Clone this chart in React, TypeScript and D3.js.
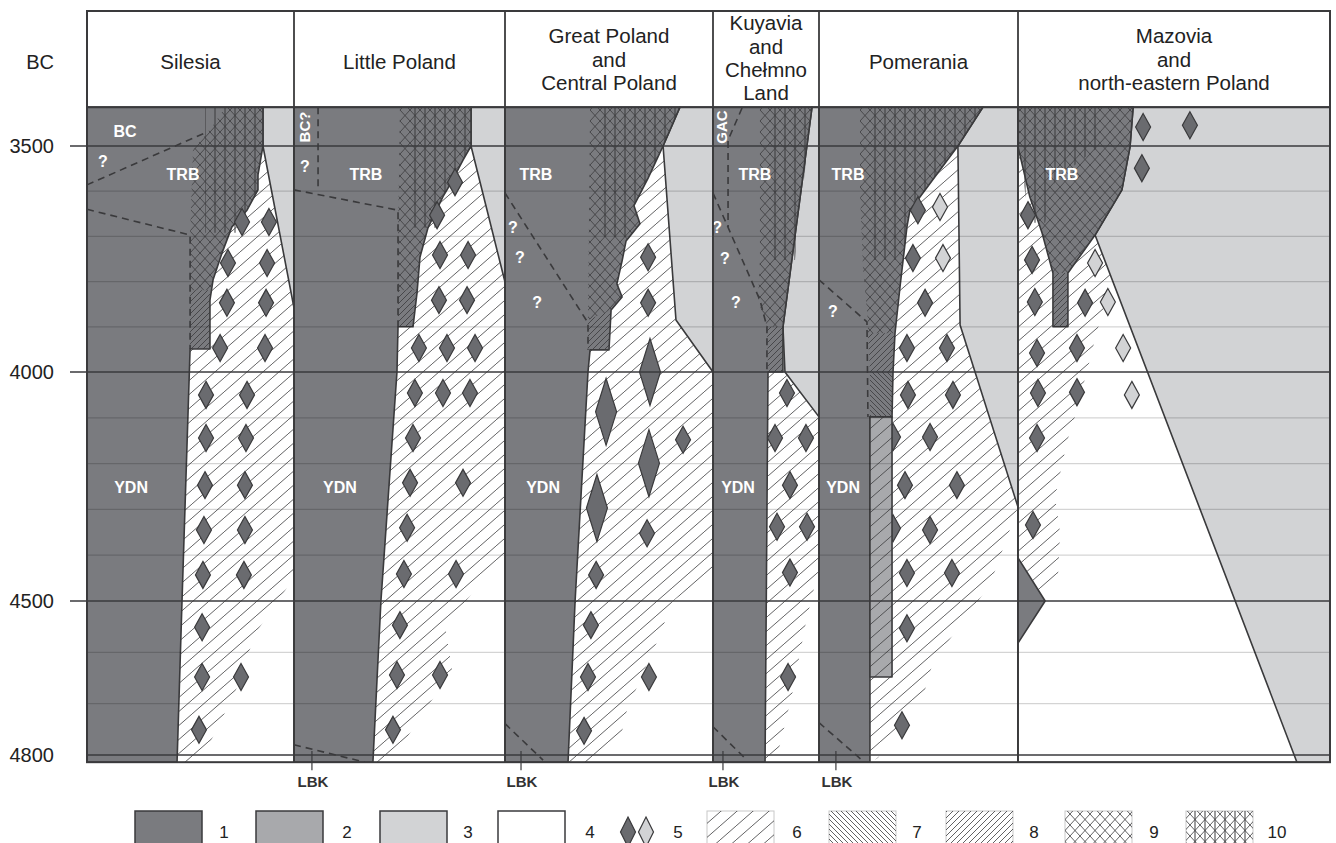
import React from 'react';
import * as d3 from 'd3';

type Pt = [number, number]; // [column units (0..6), year BC]

// ---- data ----
const REGIONS: string[][] = [
  ['Silesia'],
  ['Little Poland'],
  ['Great Poland', 'and', 'Central Poland'],
  ['Kuyavia', 'and', 'Chełmno', 'Land'],
  ['Pomerania'],
  ['Mazovia', 'and', 'north-eastern Poland'],
];

const TICK_YEARS = [3500, 4000, 4500, 4800];
const TICK_LABELS = ['3500', '4000', '4500', '4800'];
const GRID_YEARS = [3600, 3700, 3800, 3900, 4100, 4200, 4300, 4400, 4600, 4700];
const YEAR_TOP = 3414;
const YEAR_BOTTOM = 4814;

// 1 - dark grey
const DARK_AREAS: Pt[][] = [
  [[0, 3414], [0.85, 3414], [0.85, 3500], [0.826, 3564], [0.826, 3597], [0.773, 3642], [0.7, 3679], [0.652, 3737], [0.609, 3796], [0.594, 3841], [0.594, 3949], [0.498, 3949], [0.459, 4500], [0.435, 4814], [0, 4814]],
  [[1, 3414], [1.839, 3414], [1.839, 3500], [1.801, 3531], [1.739, 3586], [1.706, 3612], [1.635, 3681], [1.597, 3746], [1.583, 3825], [1.564, 3900], [1.493, 3900], [1.488, 4000], [1.412, 4500], [1.374, 4814], [1, 4814]],
  [[2, 3414], [2.841, 3414], [2.76, 3500], [2.688, 3571], [2.62, 3632], [2.649, 3672], [2.582, 3710], [2.563, 3754], [2.538, 3805], [2.563, 3834], [2.51, 3863], [2.5, 3951], [2.409, 3951], [2.399, 4000], [2.337, 4500], [2.303, 4814], [2, 4814]],
  [[3, 3414], [3.934, 3414], [3.66, 3900], [3.66, 4000], [3.519, 4000], [3.491, 4814], [3, 4814]],
  [[4, 3414], [4.824, 3414], [4.698, 3500], [4.608, 3553], [4.497, 3619], [4.457, 3642], [4.442, 3679], [4.407, 3812], [4.382, 3914], [4.372, 4000], [4.367, 4098], [4.256, 4098], [4.256, 4814], [4, 4814]],
  [[5, 3414], [5.369, 3414], [5.359, 3502], [5.333, 3597], [5.247, 3697], [5.16, 3781], [5.16, 3900], [5.112, 3900], [5.112, 3781], [5.077, 3692], [5.038, 3613], [5, 3502]],
  [[5, 4406], [5.087, 4500], [5, 4582]],
];

// 2 - medium grey
const MEDIUM_AREAS: Pt[][] = [
  [[4.256, 4098], [4.367, 4098], [4.367, 4648], [4.256, 4648]],
];

// 3 - light grey
const LIGHT_AREAS: Pt[][] = [
  [[5, 3414], [6, 3414], [6, 4814], [5, 4814]],
  [[0.85, 3414], [1, 3414], [1, 3858], [0.85, 3500]],
  [[1.839, 3414], [2, 3414], [2, 3801], [1.839, 3500]],
  [[2.841, 3414], [3, 3414], [3, 4000], [2.822, 3885], [2.76, 3500]],
  [[3.934, 3414], [4, 3414], [4, 4098], [3.679, 4000], [3.66, 3900]],
  [[4.824, 3414], [5, 3414], [5, 4295], [4.709, 3896], [4.698, 3500]],
];

// 4 - white
const WHITE_AREAS: Pt[][] = [
  [[5, 3414], [5.369, 3414], [5.359, 3502], [5.333, 3597], [5.247, 3697], [5.894, 4814], [5, 4814]],
];

// 6 - sparse hatching
const HATCH6_AREAS: Pt[][] = [
  [[0.85, 3500], [1, 3858], [1, 4449], [0.816, 4562], [0.768, 4615], [0.72, 4673], [0.585, 4784], [0.522, 4814], [0.4, 4814], [0.4, 3500]],
  [[1.839, 3500], [2, 3801], [2, 4400], [1.716, 4547], [1.749, 4634], [1.512, 4780], [1.431, 4814], [1.3, 4814], [1.3, 3500]],
  [[2.76, 3500], [2.822, 3885], [3, 4000], [3, 4432], [2.803, 4502], [2.745, 4566], [2.587, 4712], [2.553, 4771], [2.457, 4814], [2.25, 4814], [2.25, 3500]],
  [[3.519, 4000], [3.679, 4000], [4, 4098], [4, 4429], [3.887, 4531], [3.745, 4683], [3.604, 4804], [3.557, 4814], [3.45, 4814], [3.45, 4000]],
  [[4.698, 3500], [4.709, 3896], [5, 4295], [4.859, 4465], [4.573, 4619], [4.533, 4673], [4.296, 4806], [4.256, 4814], [4.2, 4814], [4.2, 3500]],
  [[5, 3502], [5.038, 3613], [5.077, 3692], [5.112, 3781], [5.112, 3900], [5.16, 3900], [5.16, 3781], [5.247, 3697], [5.301, 3796], [5.263, 3885], [5.189, 4083], [5.157, 4153], [5.119, 4273], [5.135, 4351], [5.128, 4450], [5.071, 4500], [5, 4406]],
];

// 7 - dense backslash
const HATCH7_AREAS: Pt[][] = [
  [[4.256, 4000], [4.372, 4000], [4.367, 4098], [4.256, 4098]],
];

// 8 - dense slash
const HATCH8_AREAS: Pt[][] = [
  [[0.498, 3819], [0.594, 3819], [0.594, 3949], [0.498, 3949]],
  [[1.493, 3819], [1.583, 3819], [1.564, 3900], [1.493, 3900]],
  [[2.399, 3885], [2.51, 3863], [2.5, 3951], [2.399, 3951]],
  [[3.509, 3900], [3.66, 3900], [3.66, 4000], [3.519, 4000]],
  [[4.246, 3914], [4.382, 3914], [4.372, 4000], [4.256, 4000]],
  [[5.112, 3781], [5.16, 3781], [5.16, 3900], [5.112, 3900]],
];

// 9 - cross hatching
const CROSS9_AREAS: Pt[][] = [
  [[0.667, 3414], [0.85, 3414], [0.85, 3500], [0.826, 3564], [0.826, 3597], [0.773, 3642], [0.7, 3679], [0.652, 3737], [0.609, 3796], [0.594, 3819], [0.498, 3819], [0.498, 3697], [0.512, 3509], [0.609, 3454]],
  [[1.502, 3414], [1.839, 3414], [1.839, 3500], [1.801, 3531], [1.739, 3586], [1.706, 3612], [1.635, 3681], [1.597, 3746], [1.583, 3819], [1.493, 3819], [1.493, 3700]],
  [[2.409, 3414], [2.841, 3414], [2.76, 3500], [2.688, 3571], [2.62, 3632], [2.649, 3672], [2.582, 3710], [2.563, 3754], [2.538, 3805], [2.563, 3834], [2.51, 3863], [2.399, 3885]],
  [[3.443, 3414], [3.934, 3414], [3.66, 3900], [3.509, 3900], [3.425, 3841], [3.443, 3750]],
  [[4.206, 3414], [4.824, 3414], [4.698, 3500], [4.608, 3553], [4.497, 3619], [4.457, 3642], [4.442, 3679], [4.407, 3812], [4.382, 3914], [4.246, 3914], [4.246, 3890], [4.221, 3770], [4.206, 3600]],
  [[5, 3414], [5.369, 3414], [5.359, 3502], [5.333, 3597], [5.247, 3697], [5.16, 3781], [5.112, 3781], [5.077, 3692], [5.038, 3613], [5, 3502]],
];

// 10 - cross hatching with vertical lines (vertical part)
const VERT10_AREAS: Pt[][] = [
  [[0.57, 3414], [0.85, 3414], [0.85, 3500], [0.826, 3564], [0.826, 3597], [0.773, 3642], [0.739, 3692], [0.57, 3692]],
  [[1.55, 3414], [1.839, 3414], [1.839, 3500], [1.801, 3531], [1.739, 3586], [1.706, 3612], [1.68, 3681], [1.55, 3681]],
  [[2.457, 3414], [2.841, 3414], [2.76, 3500], [2.688, 3571], [2.62, 3632], [2.6, 3700], [2.457, 3700]],
  [[3.519, 3414], [3.934, 3414], [3.774, 3752], [3.519, 3752]],
  [[4.246, 3414], [4.824, 3414], [4.698, 3500], [4.608, 3553], [4.497, 3619], [4.457, 3642], [4.442, 3679], [4.422, 3752], [4.246, 3752]],
  [[5, 3414], [5.263, 3414], [5.263, 3500], [5.119, 3575], [5.087, 3670], [5.038, 3670], [5, 3502]],
];

const DASHED_LINES: Pt[][] = [
  [[0, 3586], [0.57, 3471]],
  [[0, 3640], [0.498, 3697], [0.498, 3949]],
  [[1.114, 3414], [1.114, 3599]],
  [[1, 3597], [1.493, 3642], [1.493, 3900]],
  [[1, 4780], [1.336, 4814]],
  [[2, 3604], [2.399, 3891], [2.399, 3951]],
  [[2, 4739], [2.183, 4810]],
  [[3.274, 3416], [3.142, 3487], [3.142, 3679]],
  [[3, 3604], [3.443, 3841], [3.509, 3900], [3.509, 4000]],
  [[3, 4745], [3.321, 4810]],
  [[4, 3796], [4.241, 3889], [4.246, 4098]],
  [[4, 4737], [4.216, 4810]],
];

const LBK_AT = [1.085, 2.077, 3.094, 4.085];

const CULTURE_LABELS: [string, number, number][] = [
  ['BC', 0.184, 3467], ['?', 0.077, 3535], ['TRB', 0.464, 3562], ['YDN', 0.213, 4251],
  ['?', 1.052, 3546], ['TRB', 1.341, 3562], ['YDN', 1.218, 4251],
  ['TRB', 2.149, 3562], ['?', 2.038, 3679], ['?', 2.072, 3746], ['?', 2.154, 3847], ['YDN', 2.183, 4251],
  ['TRB', 3.396, 3562], ['?', 3.038, 3679], ['?', 3.113, 3748], ['?', 3.217, 3847], ['YDN', 3.236, 4251],
  ['TRB', 4.146, 3562], ['?', 4.07, 3867], ['YDN', 4.121, 4251],
  ['TRB', 5.141, 3562],
];
const ROTATED_LABELS: [string, number, number][] = [
  ['BC?', 1.052, 3458],
  ['GAC', 3.085, 3458],
];

// 5 - diamonds
const DIAMONDS_DARK: Pt[] = [
  [0.749, 3668], [0.879, 3668], [0.681, 3759], [0.87, 3759], [0.676, 3847], [0.865, 3847], [0.643, 3947], [0.86, 3947],
  [0.575, 4050], [0.773, 4050], [0.575, 4144], [0.768, 4144], [0.57, 4247], [0.763, 4247], [0.565, 4345], [0.763, 4345],
  [0.56, 4443], [0.758, 4443], [0.556, 4551], [0.556, 4648], [0.744, 4648], [0.541, 4751],
  [1.763, 3580], [1.678, 3653], [1.692, 3741], [1.825, 3741], [1.687, 3841], [1.82, 3841], [1.592, 3947], [1.725, 3947], [1.858, 3947],
  [1.573, 4046], [1.706, 4046], [1.834, 4046], [1.564, 4144], [1.55, 4242], [1.801, 4242], [1.536, 4340], [1.521, 4441], [1.768, 4441],
  [1.502, 4547], [1.488, 4644], [1.692, 4644], [1.469, 4751],
  [2.688, 3746], [2.688, 3847], [2.856, 4148], [2.683, 4352], [2.438, 4443], [2.413, 4547], [2.399, 4648], [2.692, 4648], [2.38, 4753],
  [3.698, 4046], [3.585, 4144], [3.877, 4144], [3.726, 4247], [3.604, 4338], [3.887, 4338], [3.726, 4438], [3.708, 4648],
  [4.497, 3642], [4.472, 3748], [4.533, 3847], [4.442, 3947], [4.643, 3947], [4.447, 4050], [4.673, 4050], [4.558, 4142],
  [4.432, 4247], [4.693, 4247], [4.558, 4345], [4.442, 4439], [4.668, 4439], [4.442, 4553], [4.417, 4742],
  [5.401, 3458], [5.551, 3454], [5.397, 3549], [5.032, 3653], [5.045, 3752], [5.054, 3845], [5.061, 3958], [5.064, 4046],
  [5.061, 4144], [5.048, 4334], [5.215, 3847], [5.189, 3947], [5.189, 4044],
];
const DIAMONDS_LIGHT: Pt[] = [
  [4.608, 3635], [4.623, 3748], [5.247, 3759], [5.288, 3845], [5.337, 3947], [5.365, 4050],
];
const DIAMONDS_HIDDEN: Pt[] = [[4.372, 4142], [4.372, 4341]];
const DIAMONDS_BIG: Pt[] = [[2.486, 4087], [2.697, 4000], [2.692, 4199], [2.442, 4297]];

const LEGEND_LABELS = ['1', '2', '3', '4', '5', '6', '7', '8', '9', '10'];
const LEGEND_KINDS = ['fill1', 'fill2', 'fill3', 'fill4', 'diamonds', 'p6', 'p7', 'p8', 'p9', 'p10'];

// ---- layout ----
const W = 1336;
const H = 843;
const EDGES = [87, 294, 505, 713, 819, 1018, 1330];
const TICK_Y = [146, 372, 601, 755];
const FRAME_TOP = 11;
const HEAD_BOTTOM = 107;
const LEGEND_BOX_X = [135, 256, 380, 498, 0, 707, 829, 946, 1065, 1186];
const LEGEND_TEXT_X = [224, 347, 468, 590, 678, 797, 917, 1034, 1154, 1277];

const INK = '#3a3a3c';
const FILL1 = '#7a7b7f';
const FILL2 = '#a8a9ac';
const FILL3 = '#d2d3d5';
const DIAMOND = '#6a6b6f';
const FONT = '"Liberation Sans", Arial, Helvetica, sans-serif';

export default function App() {
  const x = d3.scaleLinear().domain(d3.range(EDGES.length)).range(EDGES);
  const y = d3.scaleLinear().domain(TICK_YEARS).range(TICK_Y);
  const line = d3.line<Pt>().x(p => x(p[0])).y(p => y(p[1]));
  const closed = (pts: Pt[]) => `${line(pts)}Z`;
  const yTop = y(YEAR_TOP);
  const yBottom = y(YEAR_BOTTOM);

  const diamondPath = (cx: number, cy: number, w: number, h: number) =>
    `M${cx},${cy - h / 2}L${cx + w / 2},${cy}L${cx},${cy + h / 2}L${cx - w / 2},${cy}Z`;
  const diamond = (p: Pt, w: number, h: number) => diamondPath(x(p[0]), y(p[1]), w, h);

  const fills = (areas: Pt[][], fill: string, stroke: string | null, key: string) =>
    areas.map((a, i) => (
      <path key={`${key}${i}`} d={closed(a)} fill={fill}
        stroke={stroke ?? 'none'} strokeWidth={1.6} strokeLinejoin="round" />
    ));

  const legendY = 811;

  return (
    <svg width={W} height={H} style={{ position: 'absolute', left: 0, top: 0, background: '#fff' }}
      fontFamily={FONT}>
      <defs>
        <pattern id="p6" patternUnits="userSpaceOnUse" width={16} height={14}>
          <path d="M0,14L16,0" stroke={INK} strokeWidth={0.8} />
        </pattern>
        <pattern id="p7" patternUnits="userSpaceOnUse" width={5} height={5}>
          <path d="M0,0L5,5M-1,4L1,6M4,-1L6,1" stroke={INK} strokeWidth={0.8} />
        </pattern>
        <pattern id="p8" patternUnits="userSpaceOnUse" width={6} height={6}>
          <path d="M0,6L6,0M-1,1L1,-1M5,7L7,5" stroke={INK} strokeWidth={0.8} />
        </pattern>
        <pattern id="p9" patternUnits="userSpaceOnUse" width={10} height={11}>
          <path d="M0,0L10,11M0,11L10,0" stroke={INK} strokeWidth={0.8} />
        </pattern>
        <pattern id="pv" patternUnits="userSpaceOnUse" width={10} height={10}>
          <path d="M5,0L5,10" stroke={INK} strokeWidth={1} />
        </pattern>
      </defs>

      {/* header texts */}
      {REGIONS.map((lines, i) => {
        const cx = (x(i) + x(i + 1)) / 2;
        const center = lines.length === 1 ? 62 : lines.length === 3 ? 59.5 : 58;
        return lines.map((t, j) => (
          <text key={`h${i}-${j}`} x={cx} y={center + (j - (lines.length - 1) / 2) * 23.3}
            dy="0.35em" textAnchor="middle" fontSize={20.5} fill="#222">{t}</text>
        ));
      })}
      <text x={54} y={62} dy="0.35em" textAnchor="end" fontSize={20} fill="#222">BC</text>

      {/* filled areas */}
      {fills(LIGHT_AREAS, FILL3, INK, 'l')}
      {fills(WHITE_AREAS, '#fff', INK, 'w')}
      {fills(HATCH6_AREAS, 'url(#p6)', null, 'h6')}
      {fills(DARK_AREAS, FILL1, INK, 'd')}
      {fills(CROSS9_AREAS, 'url(#p9)', null, 'c9')}
      {fills(VERT10_AREAS, 'url(#pv)', null, 'v10')}
      {fills(HATCH8_AREAS, 'url(#p8)', null, 'h8')}
      {fills(HATCH7_AREAS, 'url(#p7)', null, 'h7')}

      {DIAMONDS_HIDDEN.map((p, i) => (
        <path key={`dh${i}`} d={diamond(p, 15, 27)} fill={DIAMOND} stroke={INK} strokeWidth={1.2} />
      ))}
      {fills(MEDIUM_AREAS, FILL2, INK, 'm')}
      {fills(MEDIUM_AREAS, 'url(#p6)', null, 'mh')}

      {/* minor grid */}
      {GRID_YEARS.map(yr => (
        <line key={`g${yr}`} x1={x(0)} x2={x(6)} y1={y(yr)} y2={y(yr)}
          stroke="rgba(0,0,0,0.17)" strokeWidth={1.3} />
      ))}

      {/* diamonds */}
      {DIAMONDS_DARK.map((p, i) => (
        <path key={`dd${i}`} d={diamond(p, 15, 27)} fill={DIAMOND} stroke={INK} strokeWidth={1.2} />
      ))}
      {DIAMONDS_LIGHT.map((p, i) => (
        <path key={`dl${i}`} d={diamond(p, 15, 27)} fill={FILL3} stroke={INK} strokeWidth={1.2} />
      ))}
      {DIAMONDS_BIG.map((p, i) => (
        <path key={`db${i}`} d={diamond(p, 21, 67)} fill={DIAMOND} stroke={INK} strokeWidth={1.2} />
      ))}

      {/* dashed boundaries */}
      {DASHED_LINES.map((l, i) => (
        <path key={`dl-${i}`} d={line(l) ?? ''} fill="none" stroke={INK} strokeWidth={1.6} strokeDasharray="7,5" />
      ))}

      {/* culture labels */}
      {CULTURE_LABELS.map(([t, u, yr], i) => (
        <text key={`c${i}`} x={x(u)} y={y(yr)} dy="0.35em" textAnchor="middle"
          fontSize={16} fontWeight="bold" fill="#fff">{t}</text>
      ))}
      {ROTATED_LABELS.map(([t, u, yr], i) => (
        <text key={`r${i}`} x={x(u)} y={y(yr)} dy="0.35em" textAnchor="middle"
          fontSize={15} fontWeight="bold" fill="#fff"
          transform={`rotate(-90,${x(u)},${y(yr)})`}>{t}</text>
      ))}

      {/* major year lines and ticks */}
      {TICK_YEARS.map((yr, i) => (
        <g key={`t${yr}`}>
          <line x1={yr === 4800 ? x(0) : x(0) - 17} x2={x(6)} y1={y(yr)} y2={y(yr)} stroke={INK} strokeWidth={1.4} />
          <text x={54} y={y(yr)} dy="0.35em" textAnchor="end" fontSize={20} fill="#222">{TICK_LABELS[i]}</text>
        </g>
      ))}

      {/* frame */}
      <rect x={x(0)} y={FRAME_TOP} width={x(6) - x(0)} height={yBottom - FRAME_TOP}
        fill="none" stroke={INK} strokeWidth={2} />
      <line x1={x(0)} x2={x(6)} y1={yTop} y2={yTop} stroke={INK} strokeWidth={2} />
      {d3.range(1, 6).map(i => (
        <line key={`s${i}`} x1={x(i)} x2={x(i)} y1={FRAME_TOP} y2={yBottom} stroke={INK} strokeWidth={1.8} />
      ))}

      {/* LBK */}
      {LBK_AT.map((u, i) => (
        <g key={`lbk${i}`}>
          <line x1={x(u)} x2={x(u)} y1={y(4792)} y2={yBottom + 8} stroke={INK} strokeWidth={1.2} />
          <text x={x(u) + 1} y={782} dy="0.35em" textAnchor="middle" fontSize={15}
            fontWeight="bold" fill="#333">LBK</text>
        </g>
      ))}

      {/* legend */}
      {LEGEND_KINDS.map((k, i) => {
        const bx = LEGEND_BOX_X[i];
        let mark: React.ReactNode = null;
        if (k === 'diamonds') {
          mark = (
            <g>
              <path d={diamondPath(628, 832, 15, 30)} fill={DIAMOND} stroke={INK} strokeWidth={1.2} />
              <path d={diamondPath(646, 832, 15, 30)} fill={FILL3} stroke={INK} strokeWidth={1.2} />
            </g>
          );
        } else if (k.startsWith('fill')) {
          const f = k === 'fill1' ? FILL1 : k === 'fill2' ? FILL2 : k === 'fill3' ? FILL3 : '#fff';
          mark = <rect x={bx} y={legendY} width={67} height={40} fill={f} stroke={INK} strokeWidth={1.5} />;
        } else {
          const pid = k === 'p10' ? 'p9' : k;
          mark = (
            <g>
              <rect x={bx} y={legendY} width={67} height={40} fill="#fff" stroke="#c8c8c8" strokeWidth={1} />
              <rect x={bx} y={legendY} width={67} height={40} fill={`url(#${pid})`} />
              {k === 'p10' && <rect x={bx} y={legendY} width={67} height={40} fill="url(#pv)" />}
            </g>
          );
        }
        return (
          <g key={`lg${i}`}>
            {mark}
            <text x={LEGEND_TEXT_X[i]} y={832} dy="0.35em" textAnchor="middle" fontSize={17} fill="#222">
              {LEGEND_LABELS[i]}
            </text>
          </g>
        );
      })}
    </svg>
  );
}
